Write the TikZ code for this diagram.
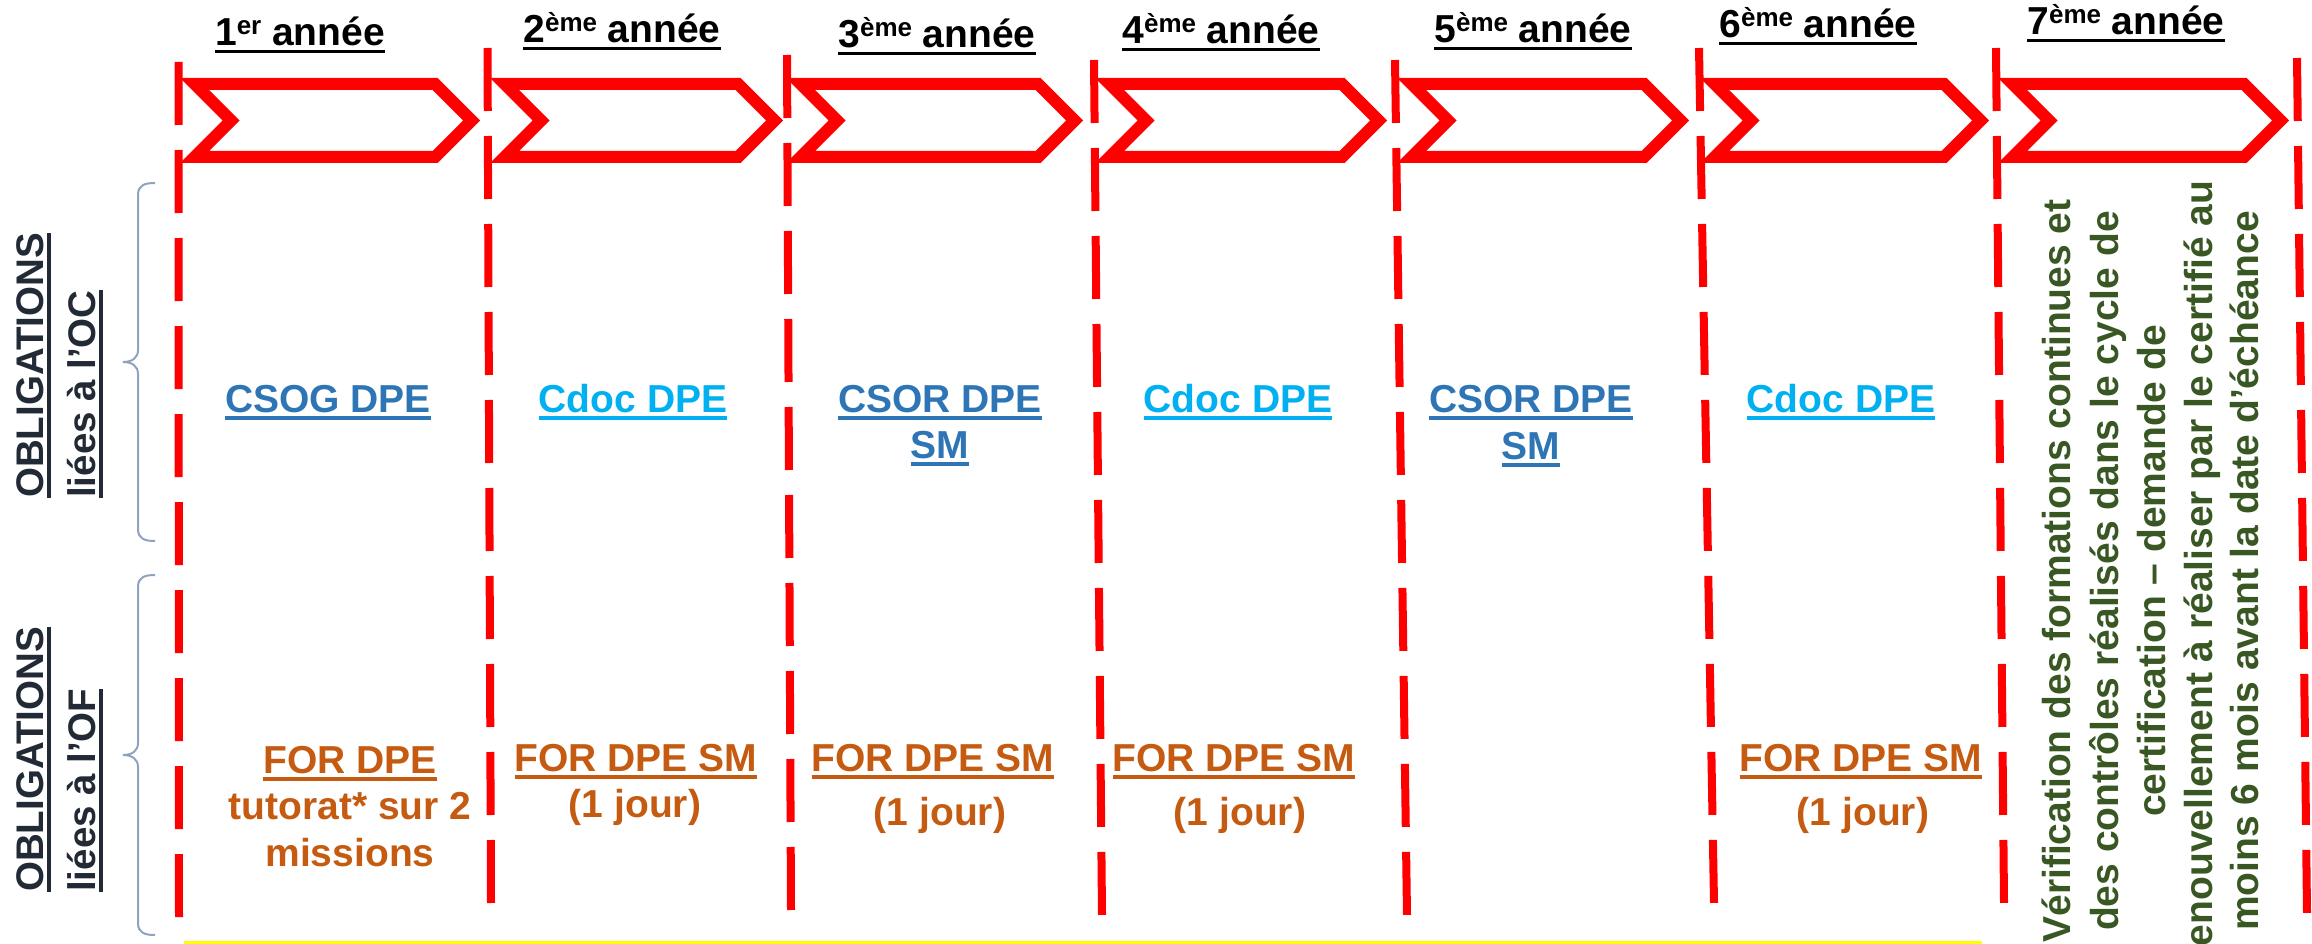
\documentclass[tikz,border=0pt]{standalone}
\usepackage{fontspec}
\setmainfont{Liberation Sans}
\definecolor{cred}{HTML}{FF0000}
\definecolor{cdark}{HTML}{222A35}
\definecolor{cblue}{HTML}{2E75B6}
\definecolor{clblue}{HTML}{00B0F0}
\definecolor{corange}{HTML}{C55A11}
\definecolor{cgreen}{HTML}{385723}
\definecolor{cbrace}{HTML}{8FA3C0}
\definecolor{cyel}{HTML}{FFFF00}
\newcommand\ulbox[1]{\setbox0=\hbox{#1}\rlap{\copy0}\rule[-7.5pt]{\wd0}{3.5pt}}
\newcommand\hsup[1]{\raisebox{11pt}{\fontsize{26}{26}\selectfont #1}}
\begin{document}
\begin{tikzpicture}[x=1pt,y=-1pt,
  txt/.style={inner sep=0pt, anchor=base, font=\bfseries\fontsize{39}{39}\selectfont},
  head/.style={txt, text=black},
  lab/.style={inner sep=0pt, anchor=base west, rotate=90, text=cdark, font=\bfseries\fontsize{38.5}{38.5}\selectfont},
  oc/.style={txt, text=cblue},
  ocl/.style={txt, text=clblue},
  of/.style={txt, text=corange},
  vert/.style={txt, rotate=90, text=cgreen},
  redline/.style={draw=cred, line width=8pt, dash pattern=on 63pt off 25pt},
  bracestyle/.style={draw=cbrace, line width=2pt}]
\useasboundingbox (0,0) rectangle (2312,944);

% chevrons
\foreach \a/\b in {180/480, 490/783, 786/1083, 1095/1387, 1397/1689, 1700/1989, 1998/2289}{
  \fill[cred, even odd rule] (\a,78) -- ({\b-42.5},78) -- (\b,120.5) -- ({\b-42.5},163) -- (\a,163) -- ({\a+42.5},120.5) -- cycle
    ({\a+29},90) -- ({\b-47.5},90) -- ({\b-17},120.5) -- ({\b-47.5},151) -- ({\a+29},151) -- ({\a+59.5},120.5) -- cycle;
}

% dashed red lines
\foreach \xa/\ya/\xb in {178.5/62/179, 487.5/48/491, 787/55/791, 1094/60/1102, 1395/60/1407, 1699/48/1714, 1996/48/2004, 2297/58/2307}{
  \draw[redline] (\xa,\ya) -- (\xb,{\ya+855});
}

% yellow line
\draw[draw=cyel, line width=3pt] (184,942.5) -- (1982,942.5);

% braces
\draw[bracestyle] (155,183) .. controls (145,183) and (138,185) .. (138,195) -- (138,350) .. controls (138,358) and (132,362) .. (123,362) .. controls (132,362) and (138,366) .. (138,374) -- (138,529) .. controls (138,539) and (145,541) .. (155,541);
\draw[bracestyle] (155,575) .. controls (145,575) and (138,577) .. (138,587) -- (138,743) .. controls (138,751) and (132,755) .. (123,755) .. controls (132,755) and (138,759) .. (138,767) -- (138,923) .. controls (138,933) and (145,935) .. (155,935);

% left labels
\node[lab] (l1a) at (43,498) {\ulbox{OBLIGATIONS}};
\node[lab] (l1b) at (95,498) {\ulbox{liées à l’OC}};
\node[lab] (l2a) at (43,892) {\ulbox{OBLIGATIONS}};
\node[lab] (l2b) at (95,892) {\ulbox{liées à l’OF}};

% headers
\node[head] (h1) at (300,46) {\ulbox{1\hsup{er} année}};
\node[head] (h2) at (622,43) {\ulbox{2\hsup{ème} année}};
\node[head] (h3) at (937,48) {\ulbox{3\hsup{ème} année}};
\node[head] (h4) at (1221,44) {\ulbox{4\hsup{ème} année}};
\node[head] (h5) at (1533,43) {\ulbox{5\hsup{ème} année}};
\node[head] (h6) at (1818,38) {\ulbox{6\hsup{ème} année}};
\node[head] (h7) at (2126,35) {\ulbox{7\hsup{ème} année}};

% OC obligations
\node[oc] (m1) at (328,412) {\ulbox{CSOG DPE}};
\node[ocl] (m2) at (633,412) {\ulbox{Cdoc DPE}};
\node[oc] (m3a) at (940,412) {\ulbox{CSOR DPE}};
\node[oc] (m3b) at (940,458) {\ulbox{SM}};
\node[ocl] (m4) at (1238,412) {\ulbox{Cdoc DPE}};
\node[oc] (m5a) at (1531,412) {\ulbox{CSOR DPE}};
\node[oc] (m5b) at (1531,459) {\ulbox{SM}};
\node[ocl] (m6) at (1841,412) {\ulbox{Cdoc DPE}};

% OF obligations
\node[of] (f1a) at (350,773) {\ulbox{FOR DPE}};
\node[of] (f1b) at (350,819) {tutorat* sur 2};
\node[of] (f1c) at (350,866) {missions};
\node[of] (f2a) at (636,771) {\ulbox{FOR DPE SM}};
\node[of] (f2b) at (635,817) {(1 jour)};
\node[of] (f3a) at (933,771) {\ulbox{FOR DPE SM}};
\node[of] (f3b) at (940,825) {(1 jour)};
\node[of] (f4a) at (1234,771) {\ulbox{FOR DPE SM}};
\node[of] (f4b) at (1240,825) {(1 jour)};
\node[of] (f6a) at (1861,771) {\ulbox{FOR DPE SM}};
\node[of] (f6b) at (1863,825) {(1 jour)};

% 7th year text
\node[vert] (v1) at (2070,571) {Vérification des formations continues et};
\node[vert] (v2) at (2118,571) {des contrôles réalisés dans le cycle de};
\node[vert] (v3) at (2165,571) {certification – demande de};
\node[vert] (v4) at (2212,571) {renouvellement à réaliser par le certifié au};
\node[vert] (v5) at (2258,571) {moins 6 mois avant la date d’échéance};
\end{tikzpicture}
\end{document}
